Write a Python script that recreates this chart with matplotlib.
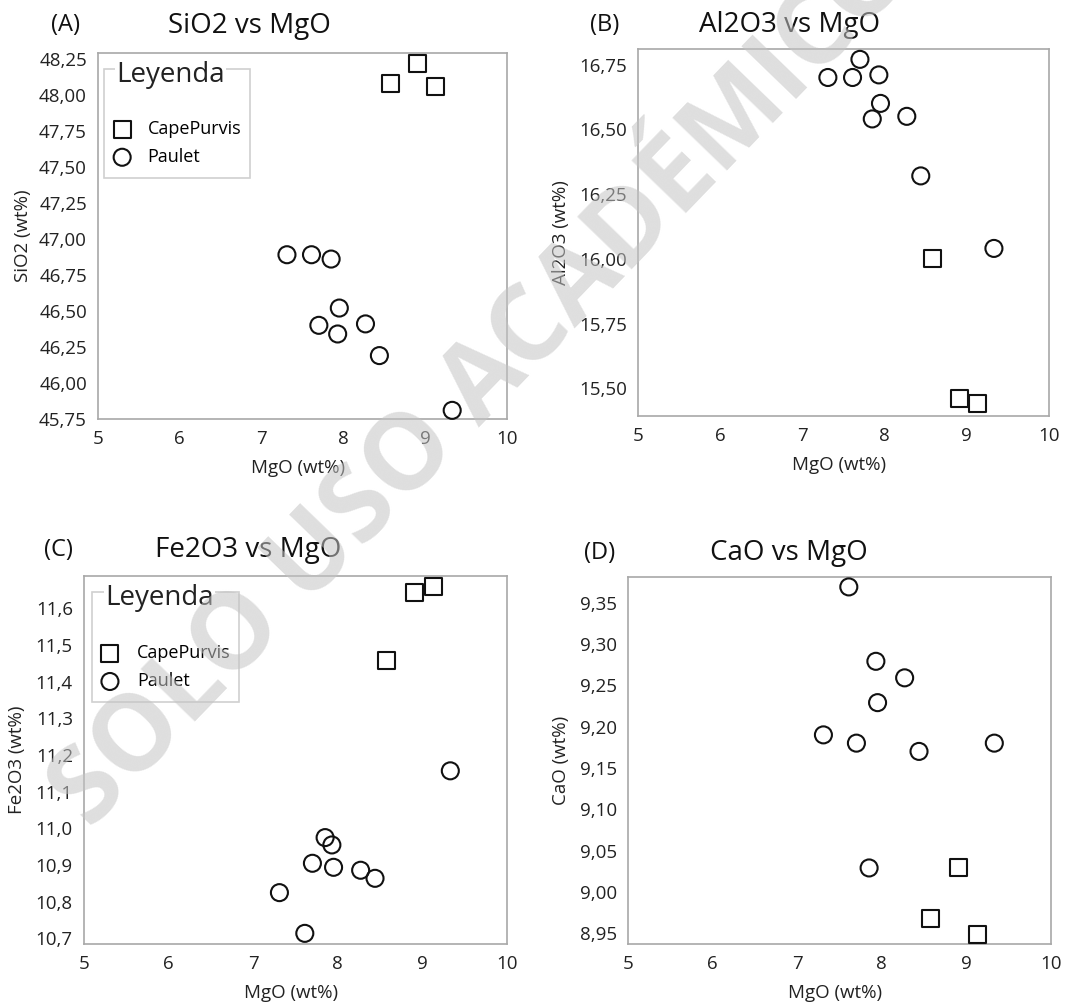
import matplotlib
matplotlib.use("Agg")
import matplotlib.pyplot as plt
from matplotlib.patches import Rectangle
from matplotlib.ticker import FuncFormatter

plt.rcParams['font.family'] = ['Open Sans', 'DejaVu Sans']

# MgO (wt%) for each sample group
mgo_paulet = [7.31, 7.61, 7.70, 7.85, 7.93, 7.95, 8.27, 8.44, 9.33]
mgo_cape = [8.58, 8.91, 9.13]

# oxide values, same sample order as the MgO lists
sio2_paulet = [46.89, 46.89, 46.40, 46.86, 46.34, 46.52, 46.41, 46.19, 45.81]
sio2_cape = [48.08, 48.22, 48.06]
al2o3_paulet = [16.70, 16.70, 16.77, 16.54, 16.71, 16.60, 16.55, 16.32, 16.04]
al2o3_cape = [16.00, 15.46, 15.44]
fe2o3_paulet = [10.825, 10.714, 10.905, 10.975, 10.955, 10.894, 10.886, 10.864, 11.157]
fe2o3_cape = [11.459, 11.643, 11.660]
cao_paulet = [9.19, 9.369, 9.18, 9.029, 9.279, 9.229, 9.259, 9.17, 9.18]
cao_cape = [8.968, 9.029, 8.949]

x_ticks = [5, 6, 7, 8, 9, 10]
sio2_ticks = [45.75, 46.00, 46.25, 46.50, 46.75, 47.00, 47.25, 47.50, 47.75, 48.00, 48.25]
al2o3_ticks = [15.50, 15.75, 16.00, 16.25, 16.50, 16.75]
fe2o3_ticks = [10.7, 10.8, 10.9, 11.0, 11.1, 11.2, 11.3, 11.4, 11.5, 11.6]
cao_ticks = [8.95, 9.00, 9.05, 9.10, 9.15, 9.20, 9.25, 9.30, 9.35]

W, H = 1089, 1007
fig = plt.figure(figsize=(W / 100, H / 100), dpi=100)


def px_rect(l, t, r, b):
    return [l / W, 1 - b / H, (r - l) / W, (b - t) / H]


def comma_fmt(decimals):
    return FuncFormatter(lambda v, p: f"{v:.{decimals}f}".replace('.', ','))


def make_panel(rect, ycape, ypaulet, yticks, ylim, decimals, ylabel, ylab_x):
    ax = fig.add_axes(rect)
    ax.scatter(mgo_cape, ycape, marker='s', s=150, facecolors='none',
               edgecolors='#111111', linewidths=1.5, label='CapePurvis',
               clip_on=False, zorder=3)
    ax.scatter(mgo_paulet, ypaulet, marker='o', s=150, facecolors='none',
               edgecolors='#111111', linewidths=1.5, label='Paulet',
               clip_on=False, zorder=3)
    ax.set_xlim(5, 10)
    ax.set_ylim(*ylim)
    ax.set_xticks(x_ticks)
    ax.set_yticks(yticks)
    ax.yaxis.set_major_formatter(comma_fmt(decimals))
    ax.tick_params(length=0, labelsize=13.5, colors='#222222', pad=8)
    for sp in ax.spines.values():
        sp.set_color('#a8a8a8')
        sp.set_linewidth(1.2)
    ax.set_xlabel('MgO (wt%)', fontsize=13.5, color='#222222')
    ax.set_ylabel(ylabel, fontsize=13.5, color='#222222')
    ax.xaxis.set_label_coords(0.49, -0.11)
    ax.yaxis.set_label_coords(ylab_x, 0.5)
    return ax


def add_legend(ax, box, title_xy, anchor, textpad):
    x0, y0, x1, y1 = box
    ax.add_patch(Rectangle((x0, y0), x1 - x0, y1 - y0, transform=ax.transAxes,
                           fill=False, edgecolor='#d0d0d0', linewidth=1.2, zorder=4))
    ax.text(title_xy[0], title_xy[1], 'Leyenda', transform=ax.transAxes,
            fontsize=20, color='#222222', ha='left', va='center', zorder=5,
            bbox=dict(facecolor='white', edgecolor='none', pad=1))
    ax.legend(loc='center left', bbox_to_anchor=anchor, frameon=False,
              fontsize=13, borderaxespad=0, borderpad=0, handlelength=1.0,
              handletextpad=textpad, labelspacing=0.55)


axA = make_panel(px_rect(98, 53, 507, 419), sio2_cape, sio2_paulet, sio2_ticks,
                 (45.75, 48.29), 2, 'SiO2 (wt%)', -0.161)
add_legend(axA, (0.015, 0.658, 0.372, 0.956), (0.045, 0.94), (0.037, 0.754), 0.9)

axB = make_panel(px_rect(638, 49, 1049, 416), al2o3_cape, al2o3_paulet, al2o3_ticks,
                 (15.393, 16.81), 2, 'Al2O3 (wt%)', -0.166)

axC = make_panel(px_rect(84, 576, 507, 944), fe2o3_cape, fe2o3_paulet, fe2o3_ticks,
                 (10.685, 11.688), 1, 'Fe2O3 (wt%)', -0.136)
add_legend(axC, (0.018, 0.658, 0.366, 0.957), (0.05, 0.94), (0.040, 0.752), 1.0)

axD = make_panel(px_rect(628, 577, 1051, 944), cao_cape, cao_paulet, cao_ticks,
                 (8.937, 9.381), 2, 'CaO (wt%)', -0.136)

# panel letters and titles
panel_titles = [('(A)', 65, 25, 'SiO2 vs MgO', 249, 26),
                ('(B)', 605, 25, 'Al2O3 vs MgO', 790, 25),
                ('(C)', 58, 550, 'Fe2O3 vs MgO', 248, 550),
                ('(D)', 600, 553, 'CaO vs MgO', 789, 553)]
for letter, lx, ly, title, tx, ty in panel_titles:
    fig.text(lx / W, 1 - ly / H, letter, fontsize=17, color='#111111',
             ha='center', va='center')
    fig.text(tx / W, 1 - ty / H, title, fontsize=20, color='#111111',
             ha='center', va='center')

# watermark (runs off the top edge as in the original)
fig.text(484 / W, 1 - 382 / H, 'SOLO USO ACADÉMICO', fontsize=76, fontweight='bold',
         color='#c4c4c4', alpha=0.55, rotation=46, rotation_mode='anchor',
         ha='center', va='center', zorder=10)

fig.savefig('out.png', dpi=100)
